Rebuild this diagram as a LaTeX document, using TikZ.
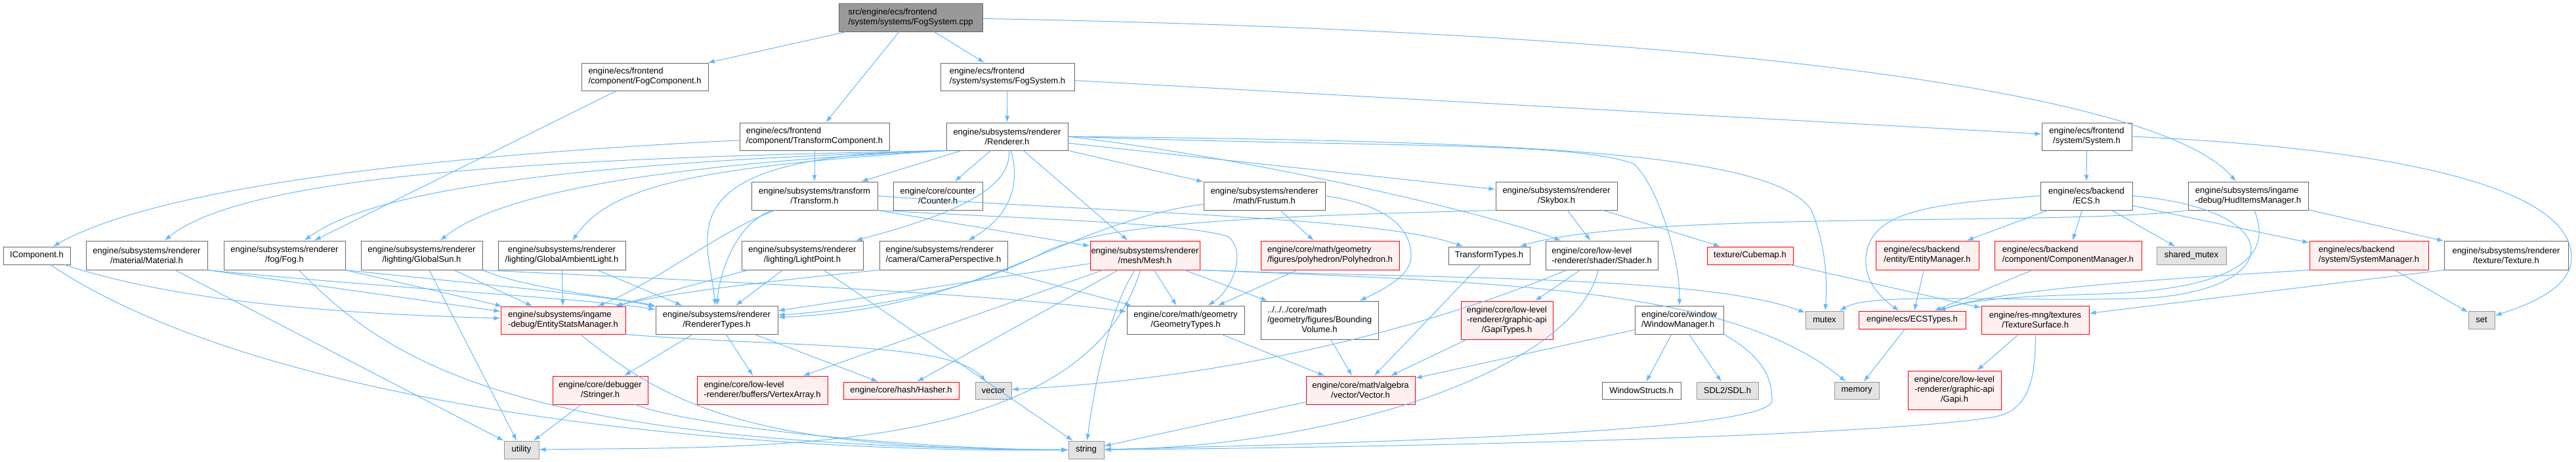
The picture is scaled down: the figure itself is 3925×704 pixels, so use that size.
\documentclass[tikz,border=0pt]{standalone}
\usepackage{fontspec}
\setmainfont{Liberation Sans}
\usetikzlibrary{arrows.meta}
\definecolor{edgeblue}{HTML}{63B8FF}
\definecolor{grey40}{HTML}{666666}
\definecolor{grey60}{HTML}{999999}
\definecolor{grey89}{HTML}{E3E3E3}
\definecolor{hitfill}{HTML}{FFF0F0}
\begin{document}
\begin{tikzpicture}[x=1pt, y=-1pt,
  file/.style={draw=grey40, fill=white, line width=1pt, inner sep=0pt, align=center, font=\fontsize{13}{15}\selectfont},
  root/.style={file, fill=grey60},
  hit/.style={file, draw=red, fill=hitfill},
  ext/.style={file, draw=grey60, fill=grey89},
  dims/.style 2 args={minimum width=#1, minimum height=#2},
  dep/.style={draw=edgeblue, line width=1pt, -{Latex[length=10pt,width=7pt]}}]
\useasboundingbox (0,0) rectangle (3925,704);

\node[root, dims={219}{43}, align=left] (cpp) at (1387.5,26.5) {src/engine/ecs/frontend\\/system/systems/FogSystem.cpp};

\node[file, dims={193}{42}, align=left] (fogcomp) at (982.5,117) {engine/ecs/frontend\\/component/FogComponent.h};
\node[file, dims={204}{42}, align=left] (fogsysh) at (1535,117) {engine/ecs/frontend\\/system/systems/FogSystem.h};
\node[file, dims={228}{42}, align=left] (transcomp) at (1241,208) {engine/ecs/frontend\\/component/TransformComponent.h};
\node[file, dims={185}{42}] (renderer) at (1534.5,208) {engine/subsystems/renderer\\/Renderer.h};
\node[file, dims={137}{42}] (systemh) at (3179.5,208) {engine/ecs/frontend\\/system/System.h};

\node[file, dims={192}{43}] (transform) at (1241,298.5) {engine/subsystems/transform\\/Transform.h};
\node[file, dims={136}{43}] (counter) at (1429,298.5) {engine/core/counter\\/Counter.h};
\node[file, dims={185}{43}] (frustum) at (1926.5,298.5) {engine/subsystems/renderer\\/math/Frustum.h};
\node[file, dims={185}{43}] (skybox) at (2371.5,298.5) {engine/subsystems/renderer\\/Skybox.h};
\node[file, dims={140}{43}] (ecs) at (3179,298.5) {engine/ecs/backend\\/ECS.h};
\node[file, dims={183}{43}, align=left] (huditems) at (3425.5,298.5) {engine/subsystems/ingame\\-debug/HudItemsManager.h};

\node[file, dims={102}{27}] (icomp) at (56,389.5) {IComponent.h};
\node[file, dims={185}{44}] (material) at (223.5,389) {engine/subsystems/renderer\\/material/Material.h};
\node[file, dims={185}{44}] (fog) at (433.5,389) {engine/subsystems/renderer\\/fog/Fog.h};
\node[file, dims={185}{44}] (globalsun) at (642.5,389) {engine/subsystems/renderer\\/lighting/GlobalSun.h};
\node[file, dims={194}{44}] (ambient) at (856,389) {engine/subsystems/renderer\\/lighting/GlobalAmbientLight.h};
\node[file, dims={185}{44}] (lightpoint) at (1222.5,389) {engine/subsystems/renderer\\/lighting/LightPoint.h};
\node[file, dims={195}{44}, align=left] (camera) at (1437.5,389) {engine/subsystems/renderer\\/camera/CameraPerspective.h};
\node[hit, dims={167}{44}] (mesh) at (1744.5,389) {engine/subsystems/renderer\\/mesh/Mesh.h};
\node[hit, dims={211}{44}, align=left] (polyhedron) at (2026.5,389) {engine/core/math/geometry\\/figures/polyhedron/Polyhedron.h};
\node[file, dims={124}{27}] (transtypes) at (2269,389.5) {TransformTypes.h};
\node[file, dims={171}{44}, align=left] (shader) at (2440.5,389) {engine/core/low-level\\-renderer/shader/Shader.h};
\node[hit, dims={131}{27}] (cubemap) at (2666.5,389.5) {texture/Cubemap.h};
\node[hit, dims={157}{44}, align=left] (entitymgr) at (2936.5,389) {engine/ecs/backend\\/entity/EntityManager.h};
\node[hit, dims={224}{44}, align=left] (compmgr) at (3151,389) {engine/ecs/backend\\/component/ComponentManager.h};
\node[ext, dims={106}{27}] (sharedmutex) at (3339,389.5) {shared\_mutex};
\node[hit, dims={181}{44}, align=left] (sysmgr) at (3609.5,389) {engine/ecs/backend\\/system/SystemManager.h};
\node[file, dims={189}{44}] (texture) at (3818.5,389) {engine/subsystems/renderer\\/texture/Texture.h};

\node[hit, dims={190}{42}, align=left] (entitystats) at (858,488) {engine/subsystems/ingame\\-debug/EntityStatsManager.h};
\node[file, dims={186}{43}] (renderertypes) at (1092,487.5) {engine/subsystems/renderer\\/RendererTypes.h};
\node[file, dims={179}{43}] (geomtypes) at (1806.5,487.5) {engine/core/math/geometry\\/GeometryTypes.h};
\node[file, dims={179}{58}] (boundvol) at (2010.5,488) {\begin{tabular}{@{}l@{}}../../../core/math\\/geometry/figures/Bounding\\\multicolumn{1}{@{}c@{}}{Volume.h}\end{tabular}};
\node[hit, dims={140}{58}] (gapitypes) at (2296,488) {engine/core/low-level\\-renderer/graphic-api\\/GapiTypes.h};
\node[file, dims={135}{43}, align=left] (windowmgr) at (2558.5,487.5) {engine/core/window\\/WindowManager.h};
\node[ext, dims={58}{27}] (mutex) at (2780,487.5) {mutex};
\node[hit, dims={163}{27}] (ecstypes) at (2913.5,487.5) {engine/ecs/ECSTypes.h};
\node[hit, dims={164}{43}] (texsurface) at (3101,487.5) {engine/res-mng/textures\\/TextureSurface.h};
\node[ext, dims={40}{27}] (set) at (3781,487.5) {set};

\node[hit, dims={145}{43}] (stringer) at (914.5,594.5) {engine/core/debugger\\/Stringer.h};
\node[hit, dims={199}{43}, align=left] (vertexarray) at (1161.5,594.5) {engine/core/low-level\\-renderer/buffers/VertexArray.h};
\node[hit, dims={176}{26}] (hasher) at (1373,595) {engine/core/hash/Hasher.h};
\node[ext, dims={55}{26}] (vector) at (1513.5,595) {vector};
\node[hit, dims={166}{43}] (vectorh) at (2073,594.5) {engine/core/math/algebra\\/vector/Vector.h};
\node[file, dims={120}{26}] (windowstructs) at (2501,595) {WindowStructs.h};
\node[ext, dims={94}{26}] (sdl) at (2632,595) {SDL2/SDL.h};
\node[ext, dims={68}{26}] (memory) at (2829,595) {memory};
\node[hit, dims={142}{59}] (gapi) at (2978,594.5) {engine/core/low-level\\-renderer/graphic-api\\/Gapi.h};

\node[ext, dims={53}{27}] (utility) at (794.5,685.5) {utility};
\node[ext, dims={54}{27}] (string) at (1655,685.5) {string};

\draw[dep] (cpp) -- (fogcomp);
\draw[dep] (cpp) -- (transcomp);
\draw[dep] (cpp) -- (fogsysh);
\draw[dep] (cpp) .. controls (2700,50) and (3300,150) .. (huditems);

\draw[dep] (fogcomp) -- (fog);
\draw[dep] (fogsysh) -- (renderer);
\draw[dep] (fogsysh) -- (systemh);
\draw[dep] (transcomp) .. controls (700,235) and (250,280) .. (icomp);
\draw[dep] (transcomp) -- (transform);
\draw[dep] (systemh) -- (ecs);
\draw[dep] (systemh.east) .. controls (3720,230) and (3915,300) .. (3918,390) .. controls (3920,440) and (3850,465) .. (set);

\draw[dep] (renderer.south west) .. controls (900,240) and (380,260) .. (material);
\draw[dep] (renderer.south west) .. controls (950,245) and (580,280) .. (fog);
\draw[dep] (renderer.south west) .. controls (1000,250) and (760,295) .. (globalsun);
\draw[dep] (renderer.south west) .. controls (1050,255) and (930,285) .. (ambient);
\draw[dep] (renderer.south west) .. controls (1000,235) and (1080,360) .. (renderertypes);
\draw[dep] (renderer) -- (transform);
\draw[dep] (renderer) -- (counter);
\draw[dep] (renderer) .. controls (1545,300) and (1400,340) .. (lightpoint);
\draw[dep] (renderer) .. controls (1560,300) and (1520,340) .. (camera);
\draw[dep] (renderer) -- (mesh);
\draw[dep] (renderer) -- (frustum);
\draw[dep] (renderer) -- (skybox);
\draw[dep] (renderer.east) .. controls (1900,240) and (2250,320) .. (shader);
\draw[dep] (renderer.east) .. controls (2100,225) and (2400,215) .. (2490,250) .. controls (2530,290) and (2560,400) .. (windowmgr);
\draw[dep] (renderer.east) .. controls (2300,215) and (2700,230) .. (2760,320) .. controls (2780,370) and (2785,420) .. (mutex);

\draw[dep] (transform.east) .. controls (1700,325) and (2100,330) .. (transtypes);
\draw[dep] (transform.south east) -- (mesh);
\draw[dep] (transform.south east) .. controls (1600,335) and (1800,340) .. (1870,360) .. controls (1900,380) and (1880,440) .. (geomtypes);
\draw[dep] (transform) .. controls (1120,340) and (1095,420) .. (renderertypes);
\draw[dep] (transform) .. controls (1100,350) and (1000,430) .. (entitystats);

\draw[dep] (icomp) .. controls (300,470) and (600,480) .. (entitystats);
\draw[dep] (icomp) .. controls (400,620) and (1100,690) .. (string);
\draw[dep] (material.south east) -- (entitystats);
\draw[dep] (material.south east) .. controls (600,440) and (900,455) .. (renderertypes);
\draw[dep] (material) -- (utility);
\draw[dep] (fog.south east) -- (entitystats);
\draw[dep] (fog.south east) .. controls (750,435) and (920,450) .. (renderertypes);
\draw[dep] (fog) .. controls (600,560) and (800,680) .. (string);
\draw[dep] (globalsun) -- (entitystats);
\draw[dep] (globalsun.south east) .. controls (800,440) and (950,455) .. (renderertypes);
\draw[dep] (globalsun) -- (utility);
\draw[dep] (globalsun.south east) .. controls (1000,425) and (1500,445) .. (geomtypes);
\draw[dep] (ambient) -- (entitystats);
\draw[dep] (ambient) -- (renderertypes);

\draw[dep] (lightpoint) -- (entitystats);
\draw[dep] (lightpoint) -- (renderertypes);
\draw[dep] (lightpoint) -- (string);
\draw[dep] (camera.south west) .. controls (1150,430) and (1000,450) .. (entitystats);
\draw[dep] (camera) -- (geomtypes);

\draw[dep] (mesh) -- (renderertypes);
\draw[dep] (mesh) -- (vertexarray);
\draw[dep] (mesh) -- (hasher);
\draw[dep] (mesh) .. controls (1690,470) and (1665,600) .. (string);
\draw[dep] (mesh) -- (geomtypes);
\draw[dep] (mesh) -- (boundvol);
\draw[dep] (mesh) .. controls (1650,700) and (1150,680) .. (utility);
\draw[dep] (mesh.south east) .. controls (2200,425) and (2600,420) .. (mutex);
\draw[dep] (mesh.south east) .. controls (2300,430) and (2640,440) .. (memory);

\draw[dep] (frustum) -- (polyhedron);
\draw[dep] (frustum.east) .. controls (2100,310) and (2150,340) .. (2150,390) .. controls (2150,420) and (2110,440) .. (boundvol);
\draw[dep] (frustum) .. controls (1620,340) and (1500,470) .. (renderertypes);
\draw[dep] (polyhedron) -- (geomtypes);

\draw[dep] (skybox.south west) .. controls (1900,330) and (1700,340) .. (1600,380) .. controls (1560,400) and (1450,460) .. (renderertypes);
\draw[dep] (skybox) -- (shader);
\draw[dep] (skybox) -- (cubemap);

\draw[dep] (shader) -- (gapitypes);
\draw[dep] (shader) .. controls (2200,490) and (1900,575) .. (vector);
\draw[dep] (shader) .. controls (2400,560) and (2050,680) .. (string);

\draw[dep] (transtypes) -- (vectorh);
\draw[dep] (cubemap) -- (texsurface);
\draw[dep] (geomtypes) -- (vectorh);
\draw[dep] (boundvol) -- (vectorh);
\draw[dep] (gapitypes) -- (vectorh);
\draw[dep] (windowmgr) -- (vectorh);
\draw[dep] (windowmgr) -- (windowstructs);
\draw[dep] (windowmgr) -- (sdl);
\draw[dep] (windowmgr.south east) .. controls (2680,540) and (2700,570) .. (2700,610) .. controls (2700,650) and (2300,670) .. (string);
\draw[dep] (vectorh) -- (string);

\draw[dep] (ecs) -- (entitymgr);
\draw[dep] (ecs) -- (compmgr);
\draw[dep] (ecs) -- (sharedmutex);
\draw[dep] (ecs) -- (sysmgr);
\draw[dep] (ecs.west) .. controls (2950,310) and (2860,320) .. (2845,380) .. controls (2835,420) and (2860,450) .. (ecstypes);
\draw[dep] (ecs.east) .. controls (3500,320) and (3480,450) .. (3250,455) .. controls (3050,460) and (2850,445) .. (mutex);
\draw[dep] (huditems) .. controls (3460,380) and (3430,440) .. (3200,448) .. controls (3050,452) and (3000,458) .. (ecstypes);
\draw[dep] (huditems) -- (texture);
\draw[dep] (huditems.south west) .. controls (3150,345) and (2500,320) .. (transtypes);

\draw[dep] (entitymgr) -- (ecstypes);
\draw[dep] (compmgr) -- (ecstypes);
\draw[dep] (sysmgr.south west) .. controls (3300,425) and (3050,440) .. (ecstypes);
\draw[dep] (sysmgr) -- (set);
\draw[dep] (texture.south west) -- (texsurface);
\draw[dep] (ecstypes) -- (memory);
\draw[dep] (texsurface) -- (gapi);
\draw[dep] (texsurface) .. controls (3102,580) and (3090,625) .. (3040,635) .. controls (2900,660) and (2300,680) .. (string);

\draw[dep] (entitystats) .. controls (1020,620) and (1150,685) .. (string);
\draw[dep] (entitystats.south east) .. controls (1200,530) and (1450,520) .. (vector);
\draw[dep] (renderertypes) -- (stringer);
\draw[dep] (renderertypes) -- (vertexarray);
\draw[dep] (renderertypes) -- (hasher);
\draw[dep] (stringer) -- (utility);
\draw[dep] (stringer) .. controls (1050,650) and (1400,685) .. (string);
\end{tikzpicture}
\end{document}
